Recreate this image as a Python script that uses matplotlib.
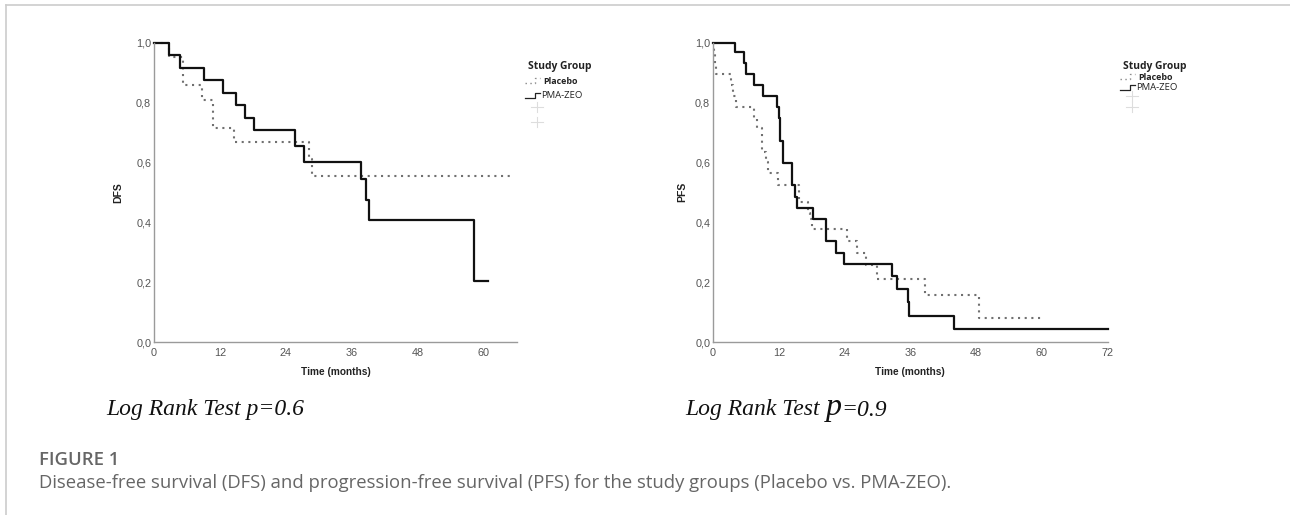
import matplotlib
matplotlib.use("Agg")
import matplotlib.pyplot as plt
from matplotlib.lines import Line2D

# DFS curves (time in months, survival after each step)
dfs_pma_t = [0, 2.8, 4.7, 9.0, 12.5, 14.9, 16.6, 18.1, 25.6, 27.3, 37.6, 38.5, 39.0, 58.2, 60.7]
dfs_pma_s = [1.0, 0.958, 0.917, 0.875, 0.833, 0.792, 0.75, 0.708, 0.655, 0.602, 0.543, 0.474, 0.407, 0.204, 0.204]
dfs_pla_t = [0, 2.8, 5.3, 8.8, 10.8, 14.6, 28.1, 28.8, 65.3]
dfs_pla_s = [1.0, 0.952, 0.857, 0.81, 0.714, 0.667, 0.61, 0.555, 0.555]

# PFS curves
pfs_pma_t = [0, 4.0, 5.7, 6.1, 7.5, 9.1, 11.7, 12.0, 12.3, 12.8, 14.4, 15.0, 15.4, 18.2, 20.6, 22.4,
             23.9, 32.6, 33.5, 35.5, 35.7, 44.0, 72]
pfs_pma_s = [1.0, 0.968, 0.933, 0.895, 0.859, 0.821, 0.784, 0.747, 0.672, 0.597, 0.524, 0.485, 0.448,
             0.41, 0.337, 0.299, 0.262, 0.22, 0.176, 0.132, 0.087, 0.045, 0.045]
pfs_pla_t = [0, 0.1, 0.3, 0.5, 3.2, 3.7, 4.2, 7.5, 8.1, 8.9, 9.7, 10.1, 11.8, 15.6, 17.3, 17.7, 18.0,
             24.4, 26.2, 28.0, 29.9, 38.7, 48.5, 60.1]
pfs_pla_s = [1.0, 0.965, 0.93, 0.895, 0.859, 0.821, 0.786, 0.75, 0.714, 0.635, 0.60, 0.563, 0.526,
             0.468, 0.43, 0.41, 0.376, 0.337, 0.296, 0.257, 0.21, 0.156, 0.08, 0.08]

yticks = [0.0, 0.2, 0.4, 0.6, 0.8, 1.0]
ytick_labels = ["0,0", "0,2", "0,4", "0,6", "0,8", "1,0"]
dfs_xticks = [0, 12, 24, 36, 48, 60]
pfs_xticks = [0, 12, 24, 36, 48, 60, 72]

W, H = 1290, 515
fig = plt.figure(figsize=(W / 100, H / 100), dpi=100)

tick_col = "#555555"
spine_col = "#9a9a9a"
dot_style = (0, (1, 2.2))


def km_axes(rect, xmax, xticks, ylab, ylab_x, pma_t, pma_s, pla_t, pla_s):
    ax = fig.add_axes(rect)
    ax.step(pla_t, pla_s, where="post", color="#707070", lw=1.5, ls=dot_style, clip_on=False)
    ax.step(pma_t, pma_s, where="post", color="#111111", lw=1.6, clip_on=False)
    ax.set_xlim(0, xmax)
    ax.set_ylim(0, 1.0)
    ax.set_yticks(yticks)
    ax.set_yticklabels(ytick_labels)
    ax.set_xticks(xticks)
    for s in ["top", "right"]:
        ax.spines[s].set_visible(False)
    for s in ["left", "bottom"]:
        ax.spines[s].set_color(spine_col)
        ax.spines[s].set_linewidth(1.0)
    ax.tick_params(length=0, labelsize=7.8, colors=tick_col, pad=2)
    ax.tick_params(axis="x", pad=4)
    ax.set_xlabel("Time (months)", fontsize=7.3, fontweight="bold", color="#222222", labelpad=7,
                  family="Liberation Sans")
    ax.set_ylabel(ylab, fontsize=7.5, fontweight="bold", color="#222222",
                  family="Liberation Sans")
    ax.yaxis.set_label_coords(ylab_x, 0.5)
    for lab in ax.get_xticklabels() + ax.get_yticklabels():
        lab.set_family("Liberation Sans")
    return ax


km_axes([154 / W, 1 - 342 / H, 363 / W, 299.3 / H], 66, dfs_xticks, "DFS", -0.085,
        dfs_pma_t, dfs_pma_s, dfs_pla_t, dfs_pla_s)
km_axes([713 / W, 1 - 342 / H, 394.7 / W, 299.3 / H], 72, pfs_xticks, "PFS", -0.066,
        pfs_pma_t, pfs_pma_s, pfs_pla_t, pfs_pla_s)


def legend(x, y, dy):
    # manual SPSS-like legend
    fy = lambda p: 1 - p / H
    fx = lambda p: p / W
    fig.text(fx(x), fy(y), "Study Group", fontsize=7.4, fontweight="bold", family="Open Sans",
             va="center", ha="left", color="#222222")
    fig.text(fx(x + 15), fy(y + dy), "Placebo", fontsize=6.4, fontweight="bold", family="Open Sans",
             va="center", ha="left", color="#222222")
    fig.text(fx(x + 13), fy(y + 2 * dy), "PMA-ZEO", fontsize=6.8, family="Open Sans",
             va="center", ha="left", color="#222222")
    fig.add_artist(Line2D([fx(x - 3), fx(x + 7), fx(x + 7), fx(x + 12)],
                          [fy(y + dy + 2), fy(y + dy + 2), fy(y + dy - 3), fy(y + dy - 3)],
                          color="#888888", lw=1.0, ls=(0, (1, 2.5))))
    fig.add_artist(Line2D([fx(x - 3), fx(x + 7), fx(x + 7), fx(x + 12)],
                          [fy(y + 2 * dy + 2), fy(y + 2 * dy + 2), fy(y + 2 * dy - 3), fy(y + 2 * dy - 3)],
                          color="#222222", lw=0.9))
    for k in (3, 4):
        cy = y + dy * k - dy * 0.3
        fig.add_artist(Line2D([fx(x + 3), fx(x + 15)], [fy(cy), fy(cy)], color="#dddddd", lw=0.8))
        fig.add_artist(Line2D([fx(x + 9), fx(x + 9)], [fy(cy - 5), fy(cy + 5)], color="#dddddd", lw=0.8))


legend(528, 66, 15)
legend(1123, 66, 11)

# Log rank annotations
serif = "Liberation Serif"
fig.text(106 / W, 1 - 410 / H, "Log Rank Test p=0.6", fontsize=17, style="italic", family=serif,
         va="center", ha="left", color="#111111")
t1 = fig.text(685 / W, 1 - 410 / H, "Log Rank Test ", fontsize=17, style="italic", family=serif,
              va="center", ha="left", color="#111111")
t2 = fig.text(0, 0, "p", fontsize=23, style="italic", family=serif, va="baseline", ha="left",
              color="#111111")
fig.canvas.draw()
bb = t1.get_window_extent()
t2.set_position((bb.x1 / W, (bb.y0 + 5) / H))
fig.canvas.draw()
bb2 = t2.get_window_extent()
fig.text(bb2.x1 / W, (bb.y0 + 5) / H, "=0.9", fontsize=17, style="italic", family=serif,
         va="baseline", ha="left", color="#111111")

# caption
fig.text(39 / W, 1 - 460 / H, "FIGURE 1", fontsize=13.3, fontweight="semibold", family="Open Sans",
         va="center", ha="left", color="#666666")
fig.text(39 / W, 1 - 483 / H,
         "Disease-free survival (DFS) and progression-free survival (PFS) for the study groups (Placebo vs. PMA-ZEO).",
         fontsize=13.3, family="Open Sans", va="center", ha="left", color="#666666")

# frame lines
fig.add_artist(Line2D([6 / W, 1], [1 - 5 / H, 1 - 5 / H], color="#cccccc", lw=1.2))
fig.add_artist(Line2D([6 / W, 6 / W], [0, 1 - 5 / H], color="#cccccc", lw=1.2))

fig.savefig("out.png", dpi=100)
